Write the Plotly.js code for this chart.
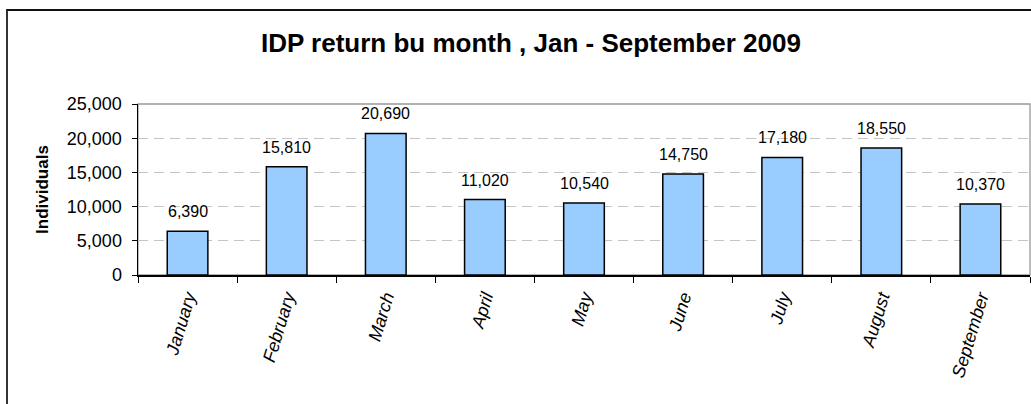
<!DOCTYPE html>
<html><head><meta charset="utf-8">
<script src="https://cdn.plot.ly/plotly-3.0.1.min.js"></script>
<style>
html,body{margin:0;padding:0;background:#fff;}
#wrap{position:relative;width:1031px;height:404px;}
#chart{width:1031px;height:404px;}
#frame{position:absolute;left:6px;top:9px;width:1100px;height:500px;border-left:2px solid #333;border-top:2px solid #111;pointer-events:none;}
</style>
</head><body>
<div id="wrap"><div id="chart"></div><div id="frame"></div></div>
<script>
const months = ["January","February","March","April","May","June","July","August","September"];
const individuals = [6390,15810,20690,11020,10540,14750,17180,18550,10370];
const yTicks = [0,5000,10000,15000,20000,25000];
const yTickLabels = ["0","5,000","10,000","15,000","20,000","25,000"];
const titleText = "IDP return bu month , Jan - September 2009";
const yTitle = "Individuals";

const fontFam = "Liberation Sans, Arial, sans-serif";
const trace = {
  type: "bar",
  x: months,
  y: individuals,
  width: 0.41,
  marker: {color: "#99CCFF", line: {color: "#000", width: 1.5}},
  hoverinfo: "none"
};
const labels = months.map((m, i) => ({
  x: m, y: individuals[i], xref: "x", yref: "y",
  text: individuals[i].toLocaleString("en-US"),
  showarrow: false, yanchor: "bottom", yshift: 9,
  font: {family: fontFam, size: 16, color: "#000"}
}));
const layout = {
  width: 1031, height: 404,
  margin: {l: 138, r: 1, t: 104, b: 129},
  paper_bgcolor: "#fff", plot_bgcolor: "#fff",
  showlegend: false,
  title: {text: "<b>" + titleText + "</b>", x: 0.515, xanchor: "center", y: 1 - 43/404, yanchor: "middle", yref: "container",
          font: {family: fontFam, size: 26, color: "#000"}},
  xaxis: {
    range: [-0.5, 8.5], type: "category",
    showline: true, linecolor: "#000", linewidth: 1.5,
    ticks: "outside", tickson: "boundaries", ticklen: 6, tickcolor: "#000", tickwidth: 1,
    tickangle: -73,
    ticklabelstandoff: 3,
    tickfont: {family: fontFam, size: 18, color: "#000", style: "italic"},
    showgrid: false, zeroline: false, fixedrange: true
  },
  yaxis: {
    range: [0, 25000],
    tickvals: yTicks, ticktext: yTickLabels,
    showline: true, linecolor: "#000", linewidth: 1.5,
    ticks: "outside", ticklen: 5, tickcolor: "#000",
    ticklabelstandoff: 6,
    tickfont: {family: fontFam, size: 18, color: "#000"},
    showgrid: true, gridcolor: "#c4c4c4", griddash: "10px,6px", gridwidth: 1,
    zeroline: false, fixedrange: true,
    title: {text: "<b>" + yTitle + "</b>", font: {family: fontFam, size: 17, color: "#000"}, standoff: 14}
  },
  annotations: labels,
  shapes: [{type: "rect", xref: "paper", yref: "paper", x0: 0, x1: 1, y0: 0, y1: 1,
            line: {color: "#999", width: 1.3}, layer: "below"}]
};
Plotly.newPlot("chart", [trace], layout, {staticPlot: true, displayModeBar: false});
</script>
</body></html>
